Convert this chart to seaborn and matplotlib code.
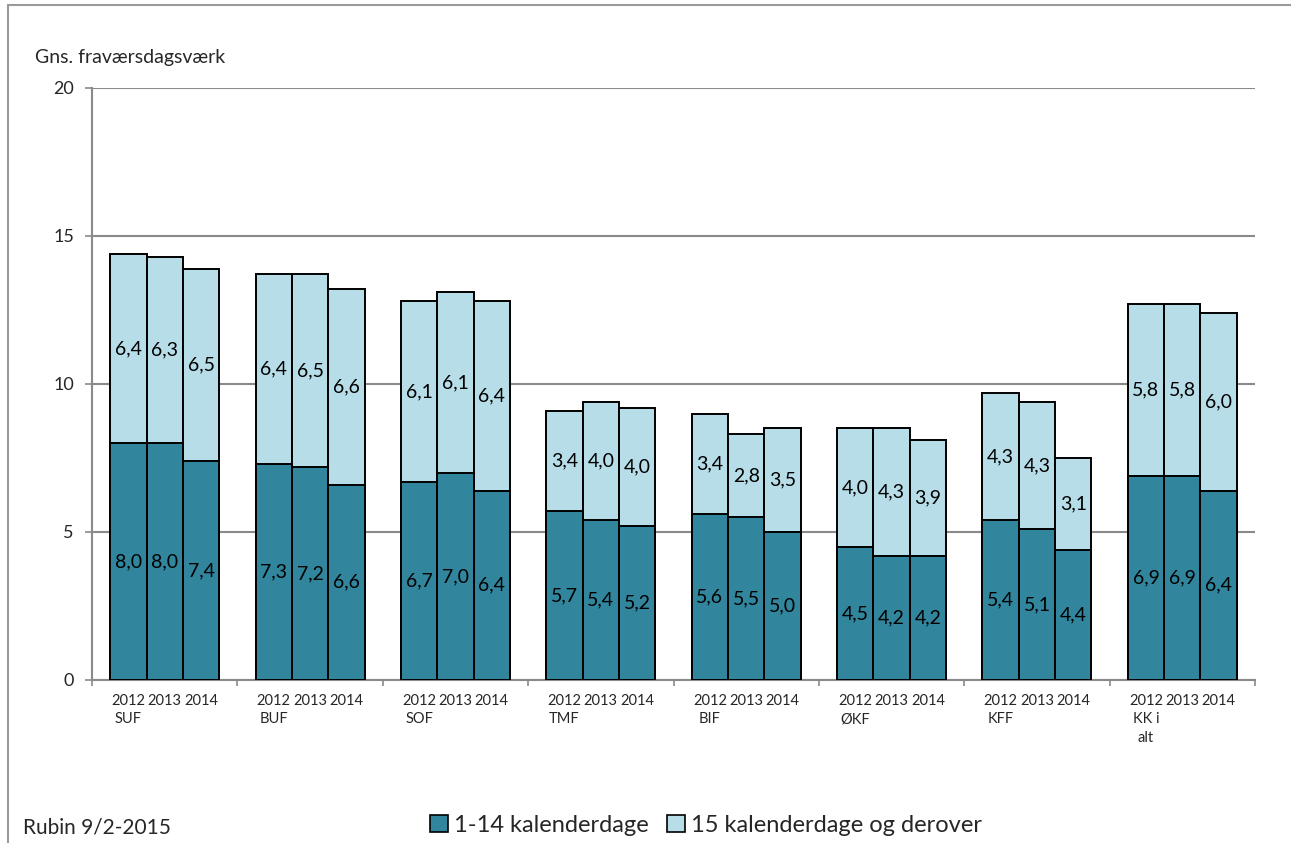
import matplotlib
matplotlib.use("Agg")
import matplotlib.pyplot as plt
import matplotlib.patches as mpatches
import numpy as np
import pandas as pd
import seaborn as sns

# Data
groups = ["SUF", "BUF", "SOF", "TMF", "BIF", "ØKF", "KFF", "KK i\nalt"]
years = ["2012", "2013", "2014"]
short_days = [8.0, 8.0, 7.4, 7.3, 7.2, 6.6, 6.7, 7.0, 6.4, 5.7, 5.4, 5.2,
              5.6, 5.5, 5.0, 4.5, 4.2, 4.2, 5.4, 5.1, 4.4, 6.9, 6.9, 6.4]
long_days = [6.4, 6.3, 6.5, 6.4, 6.5, 6.6, 6.1, 6.1, 6.4, 3.4, 4.0, 4.0,
             3.4, 2.8, 3.5, 4.0, 4.3, 3.9, 4.3, 4.3, 3.1, 5.8, 5.8, 6.0]
y_ticks = [0, 5, 10, 15, 20]

DARK = "#31859C"
LIGHT = "#B7DEE8"
GRID = "#8A8A8A"

sns.set_theme(style="white")
plt.rcParams["font.family"] = ["Lato", "DejaVu Sans"]

rows = []
for g, grp in enumerate(groups):
    for j, yr in enumerate(years):
        k = g * 3 + j
        rows.append({"group": grp, "year": yr, "pos": 4 * g + 1 + j,
                     "short": short_days[k], "long": long_days[k],
                     "total": short_days[k] + long_days[k]})
df = pd.DataFrame(rows)

fig = plt.figure(figsize=(12.91, 8.43), dpi=100)
ax = fig.add_axes([92 / 1291, 1 - 680 / 843, (1255 - 92) / 1291, (680 - 88) / 843])

# light segment drawn as full stack, dark segment on top of it
sns.barplot(data=df, x="pos", y="total", native_scale=True, width=1,
            color=LIGHT, saturation=1, edgecolor="black", linewidth=1.4,
            errorbar=None, ax=ax, zorder=3)
sns.barplot(data=df, x="pos", y="short", native_scale=True, width=1,
            color=DARK, saturation=1, edgecolor="black", linewidth=1.4,
            errorbar=None, ax=ax, zorder=3)

for _, r in df.iterrows():
    ax.text(r["pos"], r["short"] / 2, f"{r['short']:.1f}".replace(".", ","),
            ha="center", va="center", fontsize=14, color="black", zorder=5)
    ax.text(r["pos"], r["short"] + r["long"] / 2, f"{r['long']:.1f}".replace(".", ","),
            ha="center", va="center", fontsize=14, color="black", zorder=5)

ax.set_xlim(0, 32)
ax.set_ylim(0, 20)
ax.set_yticks(y_ticks)
ax.yaxis.grid(True, color=GRID, linewidth=1.5, zorder=0)
ax.set_axisbelow(True)
ax.tick_params(axis="y", left=True, length=5, width=1.2, color=GRID,
               pad=8, labelsize=13)

labels = []
for g, grp in enumerate(groups):
    for j, yr in enumerate(years):
        labels.append(f"{yr}\n{grp}" if j == 0 else yr)
ax.set_xticks(df["pos"].tolist())
ax.set_xticklabels(labels, fontsize=10.5, linespacing=1.4, va="top")
ax.set_xticks(np.arange(0, 33), minor=True)
ax.tick_params(axis="x", which="major", length=0, pad=10)
ax.tick_params(axis="x", which="minor", bottom=True, length=4, width=1.2, color=GRID)
ax.set_xlabel("")
ax.set_ylabel("")

for side in ["top", "right"]:
    ax.spines[side].set_visible(False)
for side in ["left", "bottom"]:
    ax.spines[side].set_color(GRID)
    ax.spines[side].set_linewidth(1.5)

fig.text(35 / 1291, 1 - 58 / 843, "Gns. fraværsdagsværk", fontsize=14,
         ha="left", va="center")
fig.text(23 / 1291, 1 - 828 / 843, "Rubin 9/2-2015", fontsize=15,
         ha="left", va="center")

handles = [mpatches.Patch(facecolor=DARK, edgecolor="black", linewidth=1.2,
                          label="1-14 kalenderdage"),
           mpatches.Patch(facecolor=LIGHT, edgecolor="black", linewidth=1.2,
                          label="15 kalenderdage og derover")]
fig.legend(handles=handles, loc="center", bbox_to_anchor=(706 / 1291, 1 - 825 / 843),
           ncol=2, frameon=False, fontsize=17, handlelength=0.75, handleheight=0.75,
           handletextpad=0.25, columnspacing=0.8, borderaxespad=0)

# outer chart frame
fig.add_artist(mpatches.Rectangle((8 / 1291, -0.05), 1.1, 1 - 5 / 843 + 0.05,
                                  transform=fig.transFigure, fill=False,
                                  edgecolor="#9A9A9A", linewidth=1.5))

fig.savefig("out.png", dpi=100)
plt.close(fig)
